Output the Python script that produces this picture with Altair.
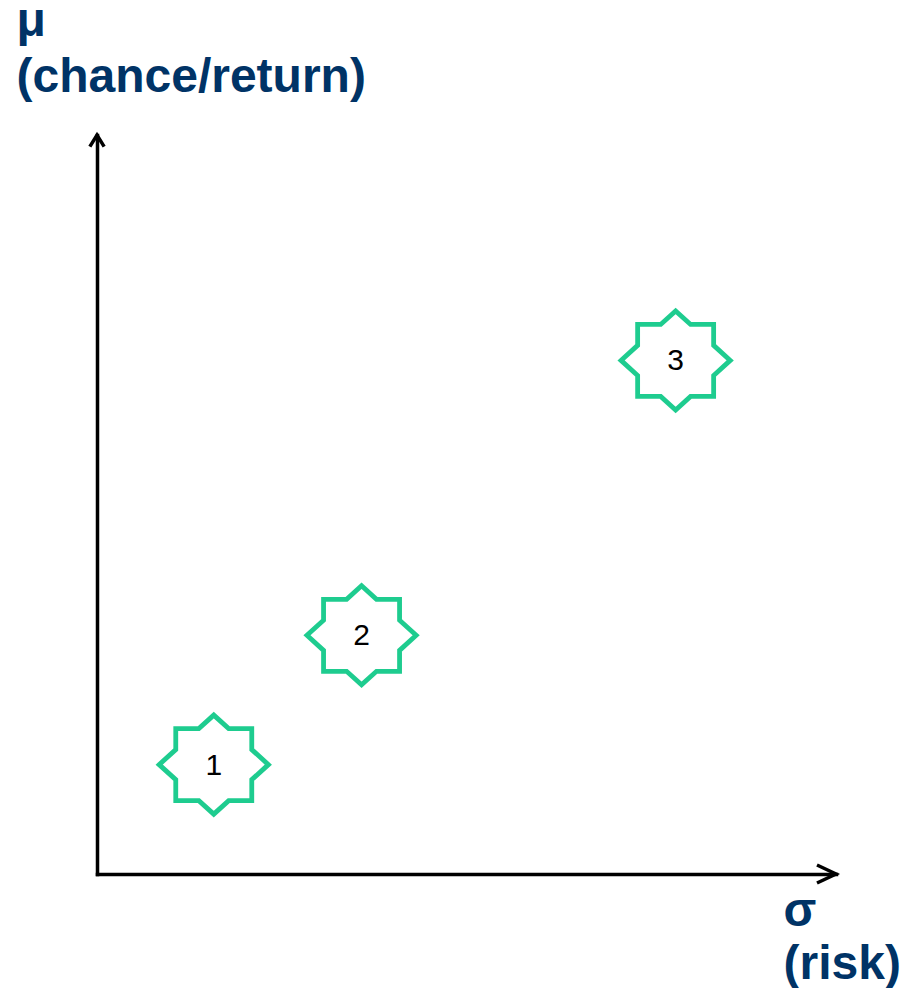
import altair as alt
import pandas as pd
import math

# ---- data ----
labels = ["1", "2", "3"]
sigma = [1.58, 3.58, 7.83]     # risk
mu = [1.48, 3.23, 6.95]        # chance / return
axis_max = 10

x_title = ["σ", "(risk)"]
y_title = ["μ", "(chance/return)"]

# ---- styles ----
GREEN = "#1ECC8F"
NAVY = "#003366"
FONT = "Liberation Sans"

# 8-point star = outline of an axis-aligned square overlapped by a diamond
# (unit coordinates; diamond tips at x=1, y=0.907; square half sizes 0.696 / 0.659)
tx, ty = 1.0, 0.907
sx, sy = 0.696, 0.659
ix = tx * (1 - sy / ty)      # inner vertex on square's horizontal edge
iy = ty * (1 - sx / tx)      # inner vertex on square's vertical edge
quad = [(tx, 0), (sx, iy), (sx, sy), (ix, sy), (0, ty)]
pts = []
for qx, qy in [(1, 1), (-1, 1), (-1, -1), (1, -1)]:
    for (px, py) in quad:
        p = (qx * px, qy * py)
        if all(abs(p[0] - q[0]) > 1e-9 or abs(p[1] - q[1]) > 1e-9 for q in pts):
            pts.append(p)
pts.sort(key=lambda p: math.atan2(p[1], p[0]))
star_path = "M" + "L".join(f"{x:.4f},{y:.4f}" for x, y in pts) + "Z"

arrow_up = "M-0.55,0.9L0,0L0.55,0.9"
arrow_right = "M-0.95,-0.45L0,0L-0.95,0.45"

df = pd.DataFrame({"sigma": sigma, "mu": mu, "label": labels})
df_ay = pd.DataFrame({"sigma": [0], "mu": [axis_max]})
df_ax = pd.DataFrame({"sigma": [axis_max], "mu": [0]})

title_common = dict(
    ticks=False, labels=False, grid=False,
    domain=True, domainColor="black", domainWidth=3.5, domainCap="square",
    titleFont=FONT, titleFontSize=48, titleFontWeight="bold",
    titleColor=NAVY, titleAngle=0, titleAlign="left",
    titleBaseline="alphabetic",
)

x_enc = alt.X(
    "sigma:Q",
    scale=alt.Scale(domain=[0, axis_max], nice=False, zero=False),
    axis=alt.Axis(title=x_title, titleX=686, titleY=51, titleLineHeight=53,
                  **title_common),
)
y_enc = alt.Y(
    "mu:Q",
    scale=alt.Scale(domain=[0, axis_max], nice=False, zero=False),
    axis=alt.Axis(title=y_title, titleX=-81, titleY=-100, titleLineHeight=56,
                  **title_common),
)

stars = alt.Chart(df).mark_point(
    shape=star_path, size=11925, filled=False, stroke=GREEN,
    strokeWidth=4.8, strokeJoin="miter", opacity=1, fill="white", fillOpacity=1,
).encode(x=x_enc, y=y_enc)

texts = alt.Chart(df).mark_text(
    font=FONT, fontSize=30, color="black", align="center", baseline="middle", dy=1,
).encode(x=x_enc, y=y_enc, text="label:N")

arrow_y = alt.Chart(df_ay).mark_point(
    shape=arrow_up, size=676, filled=False, stroke="black",
    strokeWidth=3.5, strokeJoin="miter", opacity=1,
).encode(x=x_enc, y=y_enc)

arrow_x = alt.Chart(df_ax).mark_point(
    shape=arrow_right, size=1600, filled=False, stroke="black",
    strokeWidth=3.5, strokeJoin="miter", opacity=1,
).encode(x=x_enc, y=y_enc)

chart = alt.layer(stars, texts, arrow_y, arrow_x).properties(
    width=739, height=739,
    padding={"left": 89, "top": 127, "right": 67, "bottom": 114},
    autosize=alt.AutoSizeParams(type="none"),
    background="white",
).configure_view(stroke=None)

chart.save("out.html", embed_options={"renderer": "svg", "actions": False})
